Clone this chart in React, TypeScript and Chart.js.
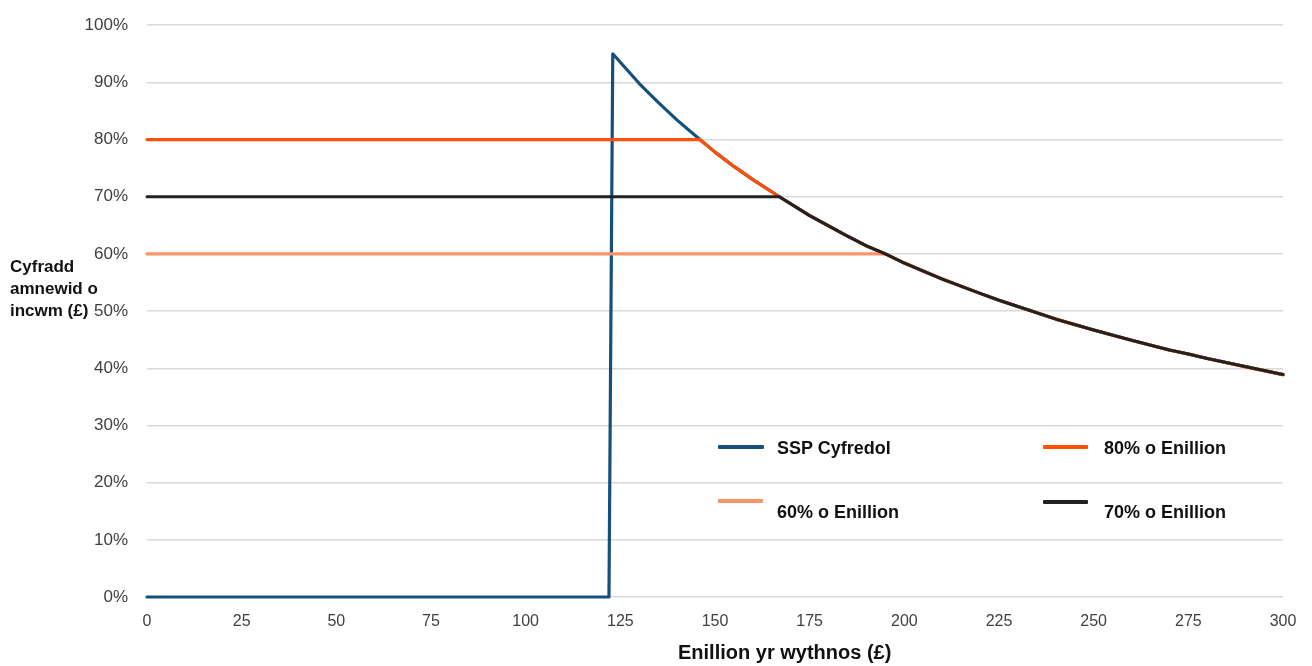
import React, { useEffect, useRef } from "react";
import { Chart, registerables } from "chart.js";

Chart.register(...registerables);

const curveEarnings = [123, 130, 135, 140, 146, 150, 155, 160, 167, 175, 180, 185, 190, 195, 200, 210, 220, 225, 230, 240, 250, 260, 270, 275, 280, 290, 300];
const curveRate = [95, 89.8, 86.5, 83.4, 80, 77.8, 75.3, 73, 70, 66.7, 64.9, 63.1, 61.4, 60, 58.4, 55.6, 53.1, 51.9, 50.8, 48.6, 46.7, 44.9, 43.2, 42.5, 41.7, 40.3, 38.9];

// SSP Cyfredol: zero below the threshold
const sspZeroEarnings = [0, 122];
const sspZeroRate = [0, 0];

const seriesLabels = ["SSP Cyfredol", "80% o Enillion", "60% o Enillion", "70% o Enillion"];
const flatRates = [80, 60, 70]; // for 80%, 60%, 70% series
const xTicks = [0, 25, 50, 75, 100, 125, 150, 175, 200, 225, 250, 275, 300];
const yTicks = [0, 10, 20, 30, 40, 50, 60, 70, 80, 90, 100];

const COLORS = {
  ssp: "#14507d",
  p80: "#fd5108",
  p60: "#f9956a",
  p70: "#222222",
};

const FONT = "'Liberation Sans', Arial, sans-serif";

function flatThenCurve(rate: number) {
  const pts: { x: number; y: number }[] = [{ x: 0, y: rate }];
  for (let i = 0; i < curveEarnings.length; i++) {
    if (curveRate[i] <= rate) pts.push({ x: curveEarnings[i], y: curveRate[i] });
  }
  return pts;
}

export default function App() {
  const ref = useRef<HTMLCanvasElement | null>(null);

  useEffect(() => {
    document.body.style.margin = "0";
    const ctx = ref.current!;
    const sspPts = [
      ...sspZeroEarnings.map((x, i) => ({ x, y: sspZeroRate[i] })),
      ...curveEarnings.map((x, i) => ({ x, y: curveRate[i] })),
    ];
    const chart = new Chart(ctx, {
      type: "line",
      data: {
        datasets: [
          { label: seriesLabels[0], data: sspPts, borderColor: COLORS.ssp, borderWidth: 3.2, order: 4, clip: 6 },
          { label: seriesLabels[1], data: flatThenCurve(flatRates[0]), borderColor: COLORS.p80, borderWidth: 3.2, order: 2, clip: 6 },
          { label: seriesLabels[2], data: flatThenCurve(flatRates[1]), borderColor: COLORS.p60, borderWidth: 3.2, order: 3, clip: 6 },
          { label: seriesLabels[3], data: flatThenCurve(flatRates[2]), borderColor: COLORS.p70, borderWidth: 3, order: 1, clip: 6 },
        ] as any,
      },
      options: {
        animation: false,
        responsive: true,
        maintainAspectRatio: false,
        parsing: false as any,
        elements: { point: { radius: 0 }, line: { tension: 0, borderJoinStyle: "round", borderCapStyle: "round" } },
        layout: { padding: { left: 0, right: 29, top: 10, bottom: 0 } },
        plugins: { legend: { display: false }, tooltip: { enabled: false } },
        scales: {
          x: {
            type: "linear",
            min: 0,
            max: 300,
            afterBuildTicks: (axis: any) => {
              axis.ticks = xTicks.map((v) => ({ value: v }));
            },
            afterFit: (axis: any) => {
              axis.height = 69;
            },
            grid: { display: false, drawTicks: false },
            border: { display: false },
            ticks: {
              padding: 15,
              color: "#404040",
              font: { family: FONT, size: 16 },
              maxRotation: 0,
              autoSkip: false,
            },
          },
          y: {
            type: "linear",
            min: 0,
            max: 100,
            afterBuildTicks: (axis: any) => {
              axis.ticks = yTicks.map((v) => ({ value: v }));
            },
            afterFit: (axis: any) => {
              axis.width = 147;
            },
            grid: { color: "#d9d9d9", lineWidth: 1.5, drawTicks: false },
            border: { display: false },
            ticks: {
              padding: 19,
              color: "#404040",
              font: { family: FONT, size: 17 },
              callback: (v: any) => v + "%",
            },
          },
        },
      },
    });
    return () => chart.destroy();
  }, []);

  const legendText: React.CSSProperties = {
    position: "absolute",
    font: `bold 18px ${FONT}`,
    color: "#111",
    whiteSpace: "nowrap",
    lineHeight: "20px",
  };
  const swatch = (color: string, left: number, top: number, width: number): React.CSSProperties => ({
    position: "absolute",
    left,
    top,
    width,
    height: 4,
    background: color,
    borderRadius: 1,
  });

  return (
    <div style={{ position: "absolute", left: 0, top: 0, width: 1312, height: 666, background: "#fff", fontFamily: FONT, overflow: "hidden" }}>
      <div style={{ position: "absolute", left: 0, top: -4, width: 1312, height: 670 }}>
        <canvas ref={ref} />
      </div>
      <div style={{ position: "absolute", left: 10, top: 256, font: `bold 17px ${FONT}`, lineHeight: "22px", color: "#111" }}>
        Cyfradd
        <br />
        amnewid o
        <br />
        incwm (£)
      </div>
      <div style={{ position: "absolute", left: 678, top: 640, font: `bold 20px ${FONT}`, lineHeight: "24px", color: "#111", whiteSpace: "nowrap" }}>
        Enillion yr wythnos (£)
      </div>
      <div style={swatch(COLORS.ssp, 718, 445, 46)} />
      <div style={{ ...legendText, left: 777, top: 438 }}>{seriesLabels[0]}</div>
      <div style={swatch(COLORS.p80, 1043, 445, 45)} />
      <div style={{ ...legendText, left: 1104, top: 438 }}>{seriesLabels[1]}</div>
      <div style={swatch(COLORS.p60, 718, 499, 45)} />
      <div style={{ ...legendText, left: 777, top: 502 }}>{seriesLabels[2]}</div>
      <div style={swatch(COLORS.p70, 1043, 500, 45)} />
      <div style={{ ...legendText, left: 1104, top: 502 }}>{seriesLabels[3]}</div>
    </div>
  );
}
